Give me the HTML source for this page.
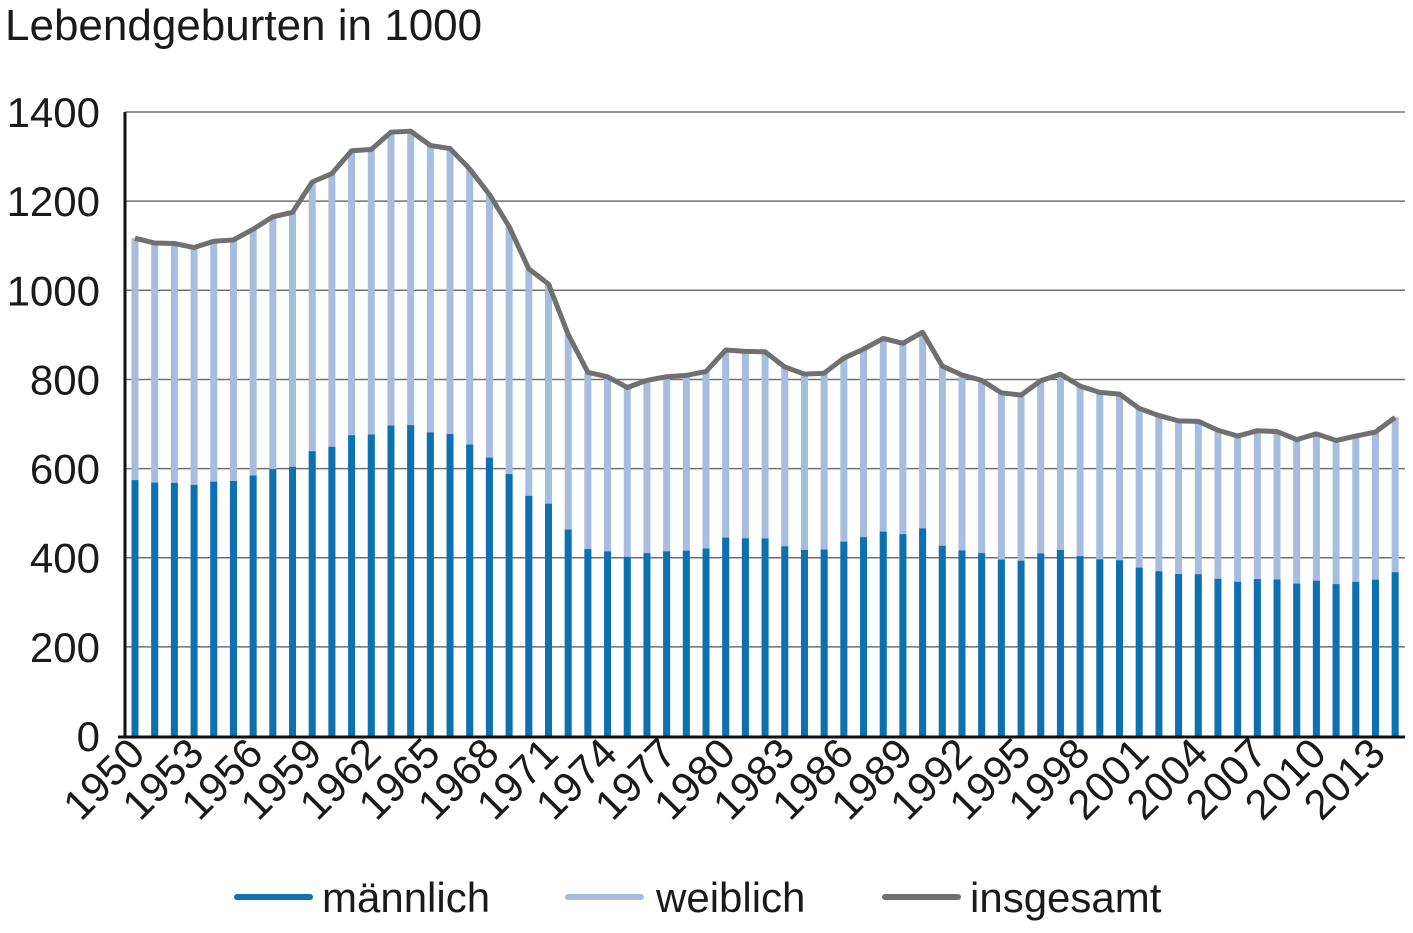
<!DOCTYPE html>
<html><head><meta charset="utf-8"><style>body{margin:0;background:#fff}svg{display:block}text{font-family:"Liberation Sans",sans-serif;fill:#1a1a1a}</style></head>
<body>
<svg id="s" width="1413" height="933" xmlns="http://www.w3.org/2000/svg">
<text x="5" y="40" font-size="44">Lebendgeburten in 1000</text>
<g id="g"></g>
</svg>
<script>
const tot=[1117,1106,1105,1096,1110,1113,1137,1165,1175,1243,1262,1313,1316,1355,1357,1325,1318,1272,1215,1143,1048,1014,901,816,806,782,798,806,809,818,866,863,862,828,812,814,848,868,892,881,906,830,810,798,770,765,797,812,785,771,767,735,719,707,706,686,673,685,683,665,678,663,673,682,715];
const male=tot.map(v=>v*0.514);
const Y=v=>736-v*0.4457, X=i=>135+i*19.69;
let h='';
for(let v=200;v<=1400;v+=200)h+=`<line x1="125" x2="1405" y1="${Y(v)}" y2="${Y(v)}" stroke="#707070" stroke-width="1.5"/>`;
for(let v=0;v<=1400;v+=200)h+=`<text x="100" y="${Y(v)+15}" font-size="42" text-anchor="end">${v}</text>`;
tot.forEach((t,i)=>{const x=X(i)-3.5;h+=`<rect x="${x}" y="${Y(t)}" width="7" height="${736-Y(t)}" fill="#a6bde0"/><rect x="${x}" y="${Y(male[i])}" width="7" height="${736-Y(male[i])}" fill="#0d70b0"/>`;});
h+=`<polyline fill="none" stroke="#707070" stroke-width="5" stroke-linejoin="round" points="${tot.map((t,i)=>X(i)+','+Y(t)).join(' ')}"/>`;
h+=`<line x1="125" x2="125" y1="112" y2="738" stroke="#111" stroke-width="3"/><line x1="118" x2="1405" y1="737" y2="737" stroke="#111" stroke-width="3"/>`;
for(let i=0;i<65;i+=3){const x=X(i)+12,y=756;h+=`<text x="${x}" y="${y}" font-size="42" text-anchor="end" transform="rotate(-45 ${x} ${y})">${1950+i}</text>`;}
[[237,'#0d70b0','männlich',322],[568,'#a6bde0','weiblich',656],[885,'#707070','insgesamt',970]].forEach(([x,c,t,tx])=>{h+=`<line x1="${x}" x2="${x+73}" y1="897" y2="897" stroke="${c}" stroke-width="6" stroke-linecap="round"/><text x="${tx}" y="912" font-size="42">${t}</text>`;});
document.getElementById('g').innerHTML=h;
</script>
</body></html>
